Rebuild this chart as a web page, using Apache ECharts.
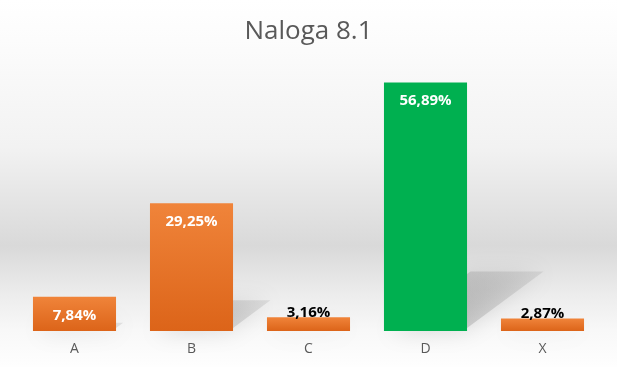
<!DOCTYPE html>
<html><head><meta charset="utf-8">
<script src="https://cdn.jsdelivr.net/npm/echarts@6/dist/echarts.min.js"></script>
<style>html,body{margin:0;padding:0;background:#fff}#c{width:617px;height:367px}</style>
</head><body><div id="c"></div>
<script>
const categories = ['A', 'B', 'C', 'D', 'X'];
const values = [7.84, 29.25, 3.16, 56.89, 2.87];
const highlight = [false, false, false, true, false];
const titleText = 'Naloga 8.1';

const fmt = v => v.toFixed(2).replace('.', ',') + '%';
const orange = new echarts.graphic.LinearGradient(0, 0, 0, 1, [
  {offset: 0, color: '#F0843A'}, {offset: 1, color: '#DC6419'}]);
const green = '#00B050';

const chart = echarts.init(document.getElementById('c'), null, {renderer: 'canvas'});
const gridTop = 69, gridBottom = 36;

chart.setOption({
  backgroundColor: '#ffffff',
  animation: false,
  title: {text: titleText, left: 'center', top: 14,
    textStyle: {fontFamily: 'Open Sans', fontSize: 26, fontWeight: 'normal', color: '#595959'}},
  graphic: [{
    type: 'rect', z: -10, silent: true,
    shape: {x: 0, y: 0, width: 617, height: 367},
    style: {fill: new echarts.graphic.LinearGradient(0, 0, 0, 1, [
      {offset: 0, color: '#ffffff'},
      {offset: 0.11, color: '#fcfcfc'},
      {offset: 0.40, color: '#f2f2f2'},
      {offset: 0.67, color: '#d9d9d9'},
      {offset: 0.80, color: '#ececec'},
      {offset: 0.90, color: '#f8f8f8'},
      {offset: 1, color: '#fefefe'}])}
  }],
  grid: {left: 16, right: 16, top: gridTop, bottom: gridBottom},
  xAxis: {type: 'category', data: categories,
    axisLine: {show: false}, axisTick: {show: false},
    axisLabel: {color: '#595959', fontSize: 14, fontFamily: 'Open Sans', margin: 11}},
  yAxis: {type: 'value', min: 0, max: 60, show: false, splitLine: {show: false}},
  series: [{
    type: 'custom', z: 1, silent: true,
    renderItem: function (params, api) {
      const base = api.coord([api.value(0), 0]);
      const top = api.coord([api.value(0), api.value(1)]);
      const bw = api.size([1, 0])[0] * 0.71;
      const h = base[1] - top[1];
      const sh = h * 0.24, dx = sh * 1.35;
      const xl = base[0] - bw / 2 + 6, xr = base[0] + bw / 2 - 4;
      return {type: 'polygon', shape: {points: [
        [xl, base[1]], [xr, base[1]], [xr + dx, base[1] - sh], [xl + dx, base[1] - sh]]},
        style: {fill: new echarts.graphic.LinearGradient(0, 1, 1, 0, [
            {offset: 0, color: 'rgba(120,120,120,0.40)'},
            {offset: 1, color: 'rgba(150,150,150,0.22)'}]),
          shadowBlur: 22, shadowColor: 'rgba(80,80,80,0.55)'}};
    },
    data: values.map((v, i) => [i, v])
  }, {
    type: 'bar', z: 3, barWidth: '71%',
    data: values.map((v, i) => {
      const big = v > 5;
      return {
        value: v,
        itemStyle: {color: highlight[i] ? green : orange},
        label: big ? {position: 'insideTop', distance: 11, color: '#ffffff'}
                   : {position: 'top', distance: -3, color: '#000000'}
      };
    }),
    label: {show: true, formatter: p => fmt(p.value), fontSize: 15, fontWeight: 'bold', fontFamily: 'Open Sans'}
  }]
});
</script></body></html>
